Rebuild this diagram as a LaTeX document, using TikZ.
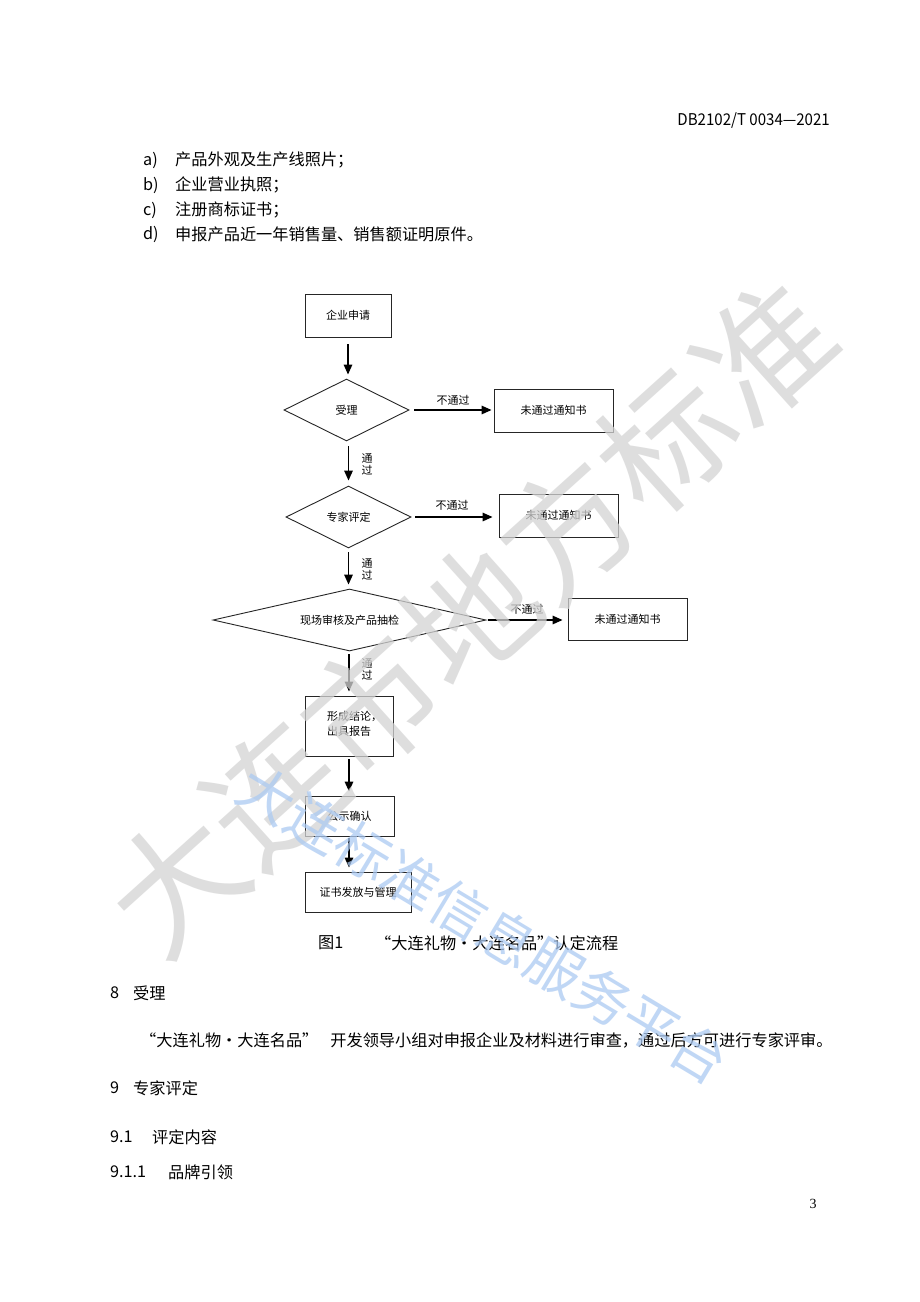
\documentclass[tikz,border=0pt]{standalone}
\usepackage{fontspec}
\usepackage{graphicx}
\newfontfamily\cjk{Noto Sans CJK SC}
\newfontfamily\serifnum{Liberation Serif}
\usetikzlibrary{shapes.geometric,arrows.meta}
\definecolor{wmgray}{RGB}{212,212,212}
\definecolor{wmblue}{RGB}{172,202,242}
\begin{document}
\begin{tikzpicture}[x=1pt,y=-1pt,
  fbox/.style={draw=black!85, line width=0.9pt, inner sep=0pt, font=\cjk\fontsize{11}{13}\selectfont},
  fdia/.style={diamond, draw=black!85, line width=0.9pt, inner sep=0pt, aspect=2, font=\cjk\fontsize{11}{13}\selectfont},
  farr/.style={line width=1.5pt, -{Triangle[length=10pt,width=8.5pt]}},
  flab/.style={inner sep=0pt, font=\cjk\fontsize{11}{12}\selectfont},
  body/.style={inner sep=0pt, anchor=west, font=\cjk\fontsize{16.2}{18}\selectfont},
  wmg/.style={inner sep=0pt, text=wmgray, opacity=0.75, font=\cjk\fontsize{132}{132}\selectfont},
  wmb/.style={inner sep=0pt, text=wmblue, opacity=0.75, font=\cjk\fontsize{56}{56}\selectfont}
]
\useasboundingbox[fill=white] (0,0) rectangle (920,1302);

% header
\node[body, anchor=east] (hdr) at (830,121) {\scalebox{0.93}[1]{DB2102/T\ 0034—2021}};

% list
\node[body] (la) at (143,160) {a)};
\node[body] (ta) at (175,160) {产品外观及生产线照片；};
\node[body] (lb) at (143,185) {b)};
\node[body] (tb) at (175,185) {企业营业执照；};
\node[body] (lc) at (143,210) {c)};
\node[body] (tc) at (175,210) {注册商标证书；};
\node[body] (ld) at (143,234) {d)};
\node[body] (td) at (175,234) {申报产品近一年销售量、销售额证明原件。};

% flowchart nodes
\node[fbox, minimum width=86, minimum height=43] (n1) at (348,315.5) {企业申请};
\node[fdia, minimum width=125, minimum height=62] (d1) at (346.5,410) {受理};
\node[fbox, minimum width=119, minimum height=43] (r1) at (553.5,410.5) {未通过通知书};
\node[fdia, minimum width=125, minimum height=62] (d2) at (348.5,517) {专家评定};
\node[fbox, minimum width=119, minimum height=43] (r2) at (558.5,515.5) {未通过通知书};
\node[fdia, minimum width=273, minimum height=62] (d3) at (349.5,620) {现场审核及产品抽检};
\node[fbox, minimum width=119, minimum height=42] (r3) at (627.5,619) {未通过通知书};
\node[fbox, minimum width=88, minimum height=60] (n2) at (349,726) {};
\node[flab, anchor=west, align=left, font=\cjk\fontsize{11}{15}\selectfont] (n2t) at (327,723.5) {形成结论，\\出具报告};
\node[fbox, minimum width=89, minimum height=40] (n3) at (349.5,816) {公示确认};
\node[fbox, minimum width=106, minimum height=40] (n4) at (358,892) {证书发放与管理};

% connectors
\draw[farr, shorten <=7pt, shorten >=4pt] (n1.south) -- (n1.south |- d1.north);
\draw[farr, shorten <=5pt, shorten >=2pt] (d1.east) -- (d1.east -| r1.west);
\draw[farr, shorten <=5pt, shorten >=5pt] (d2.north |- d1.south) -- (d2.north);
\draw[farr, shorten <=4pt, shorten >=6pt] (d2.east) -- (d2.east -| r2.west);
\draw[farr, shorten <=4pt, shorten >=4pt] (d2.south) -- (d2.south |- d3.north);
\draw[farr, shorten <=2pt, shorten >=5pt] (d3.east) -- (d3.east -| r3.west);
\draw[farr, shorten <=3pt, shorten >=4pt] (n2.north |- d3.south) -- (n2.north);
\draw[farr, shorten <=3pt, shorten >=4pt] (n2.south) -- (n2.south |- n3.north);
\draw[farr, shorten <=2pt, shorten >=4pt] (n2.south |- n3.south) -- (n2.south |- n4.north);

% connector labels
\node[flab] (l1) at (453,400) {不通过};
\node[flab] (l2) at (452,505) {不通过};
\node[flab] (l3) at (527,609) {不通过};
\node[flab, align=center] (p1) at (367,464) {通\\过};
\node[flab, align=center] (p2) at (367,569.5) {通\\过};
\node[flab, align=center] (p3) at (367,669.5) {通\\过};

% caption and text
\node[body] (cap1) at (318,943) {图1};
\node[body] (cap2) at (375,943) {“大连礼物·大连名品”认定流程};
\node[body] (s8) at (110,993) {8};
\node[body] (s8t) at (133,993) {受理};
\node[body] (para) at (140,1040) {“大连礼物·大连名品”\hspace{12pt}开发领导小组对申报企业及材料进行审查，通过后方可进行专家评审。};
\node[body] (s9) at (110,1088) {9};
\node[body] (s9t) at (133,1088) {专家评定};
\node[body] (s91) at (110,1137) {9.1};
\node[body] (s91t) at (152,1137) {评定内容};
\node[body] (s911) at (110,1172) {9.1.1};
\node[body] (s911t) at (168,1172) {品牌引领};
\node[inner sep=0pt, font=\serifnum\fontsize{14}{16}\selectfont] (pg) at (813,1204) {3};

% watermarks
\node[wmg, rotate=42] (wm1) at (470,617) {大连市地方标准};
\node[wmb, rotate=-31] (wm2) at (484,924) {大连标准信息服务平台};
\end{tikzpicture}
\end{document}
